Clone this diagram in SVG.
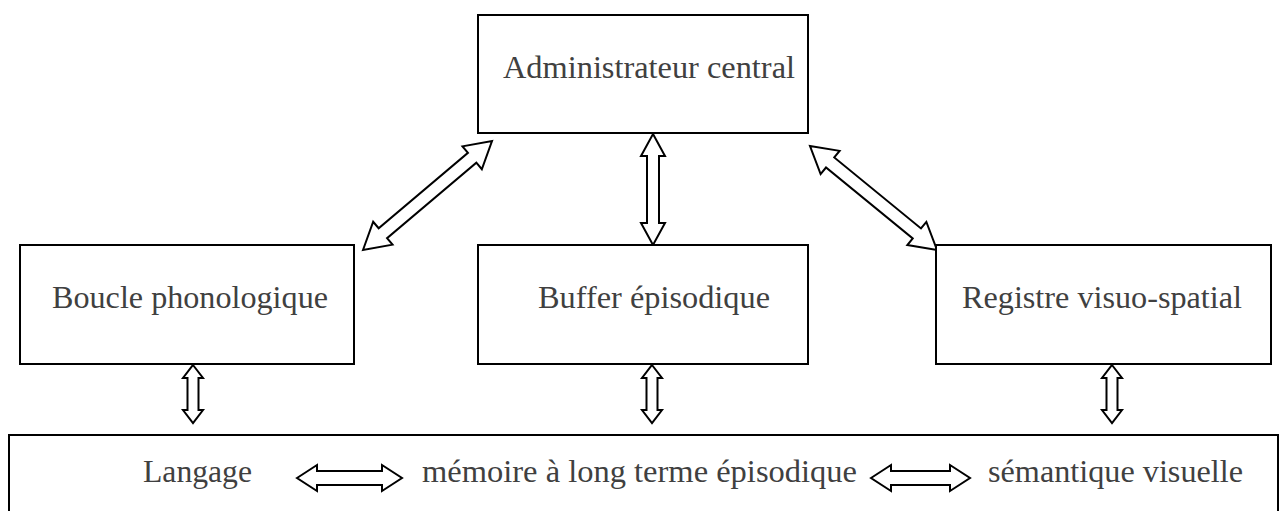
<svg xmlns="http://www.w3.org/2000/svg" width="1281" height="511" viewBox="0 0 1281 511">
<style>
.box{fill:#fff;stroke:#000;stroke-width:2}
.lbl{font-family:"Liberation Serif","Times New Roman",serif;font-size:31.5px;fill:#404040}
.arr{fill:#fff;stroke:#000;stroke-width:2;stroke-linejoin:miter}
</style>
<rect width="1281" height="511" fill="#fff"/>
<g id="connectors">
<path class="arr" transform="translate(363,250) rotate(-40.2)" d="M0,0 L26,-15 L26,-6.5 L142.9,-6.5 L142.9,-15 L168.9,0 L142.9,15 L142.9,6.5 L26,6.5 L26,15 Z"/>
<path class="arr" transform="translate(653,134) rotate(90)" d="M0,0 L22,-12 L22,-6 L89,-6 L89,-12 L111,0 L89,12 L89,6 L22,6 L22,12 Z"/>
<path class="arr" transform="translate(810,146) rotate(39.3)" d="M0,0 L26,-15 L26,-6.5 L138.1,-6.5 L138.1,-15 L164.1,0 L138.1,15 L138.1,6.5 L26,6.5 L26,15 Z"/>
<path class="arr" transform="translate(193,365) rotate(90)" d="M0,0 L13,-10 L13,-5.5 L45,-5.5 L45,-10 L58,0 L45,10 L45,5.5 L13,5.5 L13,10 Z"/>
<path class="arr" transform="translate(652,365) rotate(90)" d="M0,0 L13,-10 L13,-5.5 L45,-5.5 L45,-10 L58,0 L45,10 L45,5.5 L13,5.5 L13,10 Z"/>
<path class="arr" transform="translate(1112,365) rotate(90)" d="M0,0 L13,-10 L13,-5.5 L45,-5.5 L45,-10 L58,0 L45,10 L45,5.5 L13,5.5 L13,10 Z"/>
</g>
<g id="admin">
<rect class="box" x="478" y="15" width="330" height="118"/>
<text class="lbl" x="503" y="78" textLength="292" lengthAdjust="spacingAndGlyphs">Administrateur central</text>
</g>
<g id="boucle">
<rect class="box" x="20" y="245" width="334" height="119"/>
<text class="lbl" x="52" y="308" textLength="276" lengthAdjust="spacingAndGlyphs">Boucle phonologique</text>
</g>
<g id="buffer">
<rect class="box" x="478" y="245" width="330" height="119"/>
<text class="lbl" x="538" y="308" textLength="232" lengthAdjust="spacingAndGlyphs">Buffer épisodique</text>
</g>
<g id="registre">
<rect class="box" x="936" y="245" width="335" height="119"/>
<text class="lbl" x="962" y="308" textLength="280" lengthAdjust="spacingAndGlyphs">Registre visuo-spatial</text>
</g>
<g id="memoire">
<rect class="box" x="9" y="435" width="1269" height="85"/>
<text class="lbl" x="143" y="482" textLength="109" lengthAdjust="spacingAndGlyphs">Langage</text>
<path class="arr" transform="translate(297,478)" d="M0,0 L20,-13 L20,-7 L85,-7 L85,-13 L105,0 L85,13 L85,7 L20,7 L20,13 Z"/>
<text class="lbl" x="422" y="482" textLength="435" lengthAdjust="spacingAndGlyphs">mémoire à long terme épisodique</text>
<path class="arr" transform="translate(871,478)" d="M0,0 L20,-13 L20,-7 L79,-7 L79,-13 L99,0 L79,13 L79,7 L20,7 L20,13 Z"/>
<text class="lbl" x="988" y="482" textLength="255" lengthAdjust="spacingAndGlyphs">sémantique visuelle</text>
</g>
</svg>
